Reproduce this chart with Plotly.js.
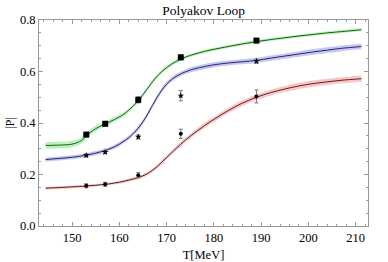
<!DOCTYPE html>
<html>
<head>
<meta charset="utf-8">
<script src="https://cdn.plot.ly/plotly-3.0.1.min.js"></script>
<style>html,body{margin:0;padding:0;background:#fff;}#chart{width:388px;height:262px;}</style>
</head>
<body>
<div id="chart"></div>
<script>
// Fit-curve samples
var curveT = [144.4,147,150,152,153,154,155,156,157,158,159,160,161,162,163,164,165,166,167,168,169,170,171,172,174,176,178,180,183,186,189,192,195,198,201,204,207,211.2];
var curveGreen = [0.313,0.314,0.318,0.332,0.350,0.366,0.378,0.388,0.397,0.405,0.414,0.424,0.435,0.450,0.467,0.487,0.510,0.535,0.560,0.582,0.600,0.615,0.628,0.639,0.656,0.668,0.678,0.686,0.697,0.707,0.716,0.724,0.731,0.738,0.744,0.750,0.755,0.762];
var curveBlue = [0.258,0.262,0.267,0.272,0.275,0.279,0.283,0.288,0.293,0.300,0.308,0.318,0.330,0.343,0.360,0.380,0.405,0.435,0.468,0.500,0.528,0.551,0.568,0.581,0.599,0.611,0.619,0.626,0.633,0.638,0.643,0.652,0.660,0.668,0.676,0.683,0.690,0.697];
var curveRed = [0.147,0.149,0.152,0.154,0.155,0.157,0.158,0.160,0.162,0.164,0.167,0.170,0.174,0.178,0.183,0.188,0.195,0.204,0.216,0.231,0.248,0.266,0.284,0.301,0.334,0.363,0.390,0.414,0.448,0.477,0.500,0.518,0.532,0.544,0.553,0.560,0.566,0.572];
// Band half-widths
var bandGreen = [0.013,0.013,0.013,0.012,0.012,0.011,0.011,0.010,0.010,0.010,0.009,0.009,0.009,0.008,0.008,0.008,0.008,0.008,0.008,0.007,0.007,0.007,0.007,0.007,0.006,0.006,0.006,0.006,0.006,0.006,0.006,0.006,0.006,0.006,0.006,0.006,0.006,0.006];
var bandBlue = [0.008,0.008,0.008,0.008,0.008,0.008,0.008,0.008,0.008,0.008,0.008,0.008,0.008,0.008,0.008,0.009,0.009,0.009,0.009,0.009,0.009,0.009,0.009,0.009,0.009,0.010,0.010,0.010,0.010,0.010,0.010,0.010,0.010,0.011,0.011,0.011,0.011,0.011];
var bandRed = [0.005,0.005,0.005,0.005,0.005,0.005,0.005,0.005,0.005,0.005,0.005,0.006,0.006,0.006,0.006,0.006,0.007,0.007,0.007,0.008,0.008,0.008,0.008,0.009,0.009,0.009,0.010,0.010,0.010,0.011,0.011,0.011,0.012,0.012,0.012,0.012,0.012,0.012];
// Lattice data points
var dataT = [153,157,164,173,189];
var dataGreen = [0.355,0.397,0.490,0.655,0.720];
var errGreen = [0.008,0.008,0.012,0.010,0.008];
var dataBlue = [0.274,0.287,0.346,0.506,0.640];
var errBlue = [0.006,0.006,0.008,0.020,0.008];
var dataRed = [0.156,0.162,0.197,0.358,0.503];
var errRed = [0.008,0.008,0.010,0.018,0.025];

function add(a,b,s){return a.map(function(v,i){return v+s*b[i];});}
function band(y,b,fill){
  return [
    {x:curveT,y:add(y,b,1),mode:'lines',line:{width:0,shape:'spline'},hoverinfo:'skip',showlegend:false},
    {x:curveT,y:add(y,b,-1),mode:'lines',line:{width:0,shape:'spline'},fill:'tonexty',fillcolor:fill,hoverinfo:'skip',showlegend:false}
  ];
}
function curve(y,col){return {x:curveT,y:y,mode:'lines',line:{color:col,width:1,shape:'spline'},showlegend:false};}
function pts(y,e,sym,size){
  return {x:dataT,y:y,mode:'markers',marker:{symbol:sym,size:size,color:'#000'},
    error_y:{type:'data',array:e,visible:true,color:'#777',thickness:1,width:2},showlegend:false};
}
var traces = [].concat(
  band(curveGreen,bandGreen,'rgba(140,235,140,0.6)'),
  band(curveBlue,bandBlue,'rgba(160,160,240,0.6)'),
  band(curveRed,bandRed,'rgba(245,160,160,0.6)'),
  [curve(curveGreen,'#1c5a1c'),curve(curveBlue,'#2a2a5a'),curve(curveRed,'#5a2222'),
   pts(dataGreen,errGreen,'square',6),pts(dataBlue,errBlue,'star',5),pts(dataRed,errRed,'circle',4)]
);
var axisCommon = {showgrid:false,zeroline:false,showline:true,linecolor:'#999',linewidth:1,mirror:'ticks',
  ticks:'inside',ticklen:4,tickcolor:'#999',tickfont:{family:'Liberation Serif',size:12.5,color:'#000'}};
var layout = {
  width:388,height:262,margin:{l:39,r:20,t:20,b:36},paper_bgcolor:'#fff',plot_bgcolor:'#fff',
  font:{family:'Liberation Serif',color:'#000'},
  title:{text:'Polyakov Loop',font:{family:'Liberation Serif',size:13.5,color:'#000'},x:0.525,xanchor:'center',y:0.962,yanchor:'middle'},
  xaxis:Object.assign({},axisCommon,{range:[143,212.6],tickvals:[150,160,170,180,190,200,210],
    minor:{dtick:2,tick0:150,ticklen:2,ticks:'inside',tickcolor:'#999'},
    title:{text:'T[MeV]',font:{family:'Liberation Serif',size:12.5},standoff:7}}),
  yaxis:Object.assign({},axisCommon,{range:[0,0.8],tickvals:[0,0.2,0.4,0.6,0.8],ticktext:['0.0','0.2','0.4','0.6','0.8'],
    minor:{dtick:0.05,tick0:0,ticklen:2,ticks:'inside',tickcolor:'#999'},
    title:{text:'|P|',font:{family:'Liberation Serif',size:12.5},standoff:2}})
};
Plotly.newPlot('chart',traces,layout,{staticPlot:true,displayModeBar:false});
</script>
</body>
</html>
